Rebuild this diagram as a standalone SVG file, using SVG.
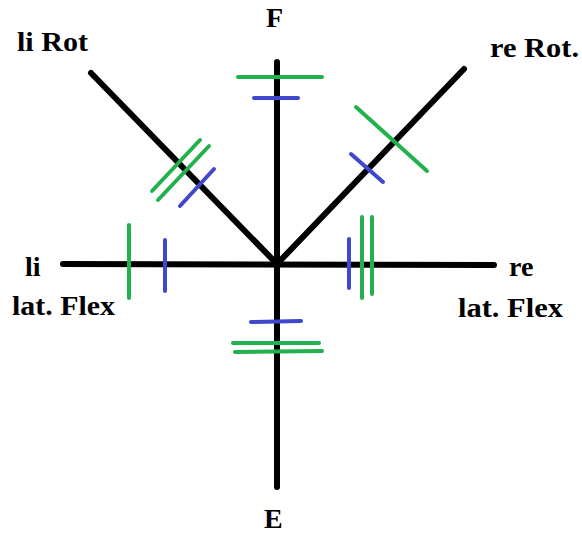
<svg xmlns="http://www.w3.org/2000/svg" width="582" height="533" viewBox="0 0 582 533">
<style>
.ax{stroke:#000;stroke-width:6;stroke-linecap:round;fill:none}
.g{stroke:#22b14c;stroke-width:4;stroke-linecap:round}
.b{stroke:#3f48cc;stroke-width:4;stroke-linecap:round}
.t{font-family:"Liberation Serif","Times New Roman",serif;font-weight:bold;font-size:28px;fill:#000}
</style>
<rect width="582" height="533" fill="#fff"/>
<g id="connectors">
<line class="ax" x1="277" y1="62" x2="277" y2="487"/>
<line class="ax" x1="63" y1="264" x2="494" y2="265"/>
<line class="ax" x1="91" y1="73" x2="277" y2="264"/>
<line class="ax" x1="464" y1="69" x2="277" y2="264"/>
</g>
<g id="marks-F">
<line class="g" x1="238" y1="77" x2="322" y2="77"/>
<line class="b" x1="254" y1="98" x2="298" y2="98"/>
</g>
<g id="marks-E">
<line class="b" x1="251" y1="322" x2="301" y2="321"/>
<line class="g" x1="233" y1="343" x2="319" y2="343"/>
<line class="g" x1="235" y1="352" x2="322" y2="351"/>
</g>
<g id="marks-li">
<line class="g" x1="129" y1="225" x2="129" y2="298"/>
<line class="b" x1="165" y1="240" x2="165" y2="291"/>
</g>
<g id="marks-re">
<line class="b" x1="349" y1="239" x2="349" y2="288"/>
<line class="g" x1="362" y1="217" x2="362" y2="298"/>
<line class="g" x1="372" y1="217" x2="372" y2="294"/>
</g>
<g id="marks-liRot">
<line class="g" x1="152" y1="191" x2="200" y2="140"/>
<line class="g" x1="158" y1="200" x2="209" y2="146"/>
<line class="b" x1="180" y1="206" x2="214" y2="169"/>
</g>
<g id="marks-reRot">
<line class="g" x1="356" y1="107" x2="427" y2="171"/>
<line class="b" x1="351" y1="154" x2="383" y2="182"/>
</g>
<g id="label-F"><text class="t" x="266" y="27">F</text></g>
<g id="label-E"><text class="t" x="264" y="528">E</text></g>
<g id="label-liRot"><text class="t" x="17" y="51" textLength="71" lengthAdjust="spacingAndGlyphs">li Rot</text></g>
<g id="label-reRot"><text class="t" x="490" y="57" textLength="89" lengthAdjust="spacingAndGlyphs">re Rot.</text></g>
<g id="label-li"><text class="t" x="25" y="276">li</text><text class="t" x="12" y="315" textLength="103" lengthAdjust="spacingAndGlyphs">lat. Flex</text></g>
<g id="label-re"><text class="t" x="509" y="276">re</text><text class="t" x="458" y="317" textLength="105" lengthAdjust="spacingAndGlyphs">lat. Flex</text></g>
</svg>
